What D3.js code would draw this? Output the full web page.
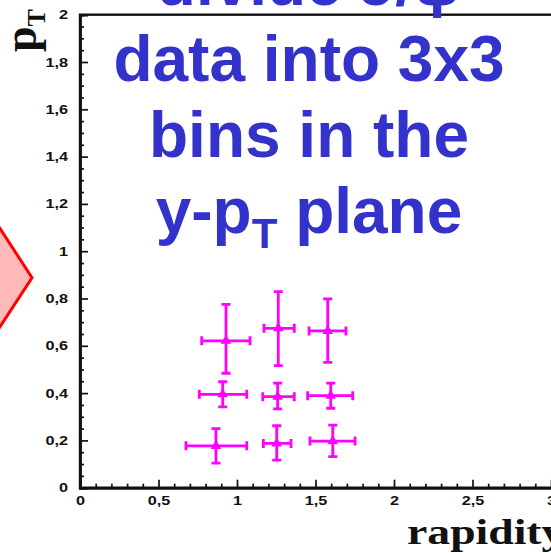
<!DOCTYPE html>
<html>
<head>
<meta charset="utf-8">
<script src="https://cdn.jsdelivr.net/npm/d3@7"></script>
<style>
  html, body { margin: 0; padding: 0; background: #ffffff; }
  svg { display: block; }
</style>
</head>
<body>
<svg id="chart" width="551" height="553"></svg>
<script>
// Measured J/psi bins: bin centres and bin edges in rapidity, pT centres and uncertainty bounds
const rapidity = [0.930, 1.263, 1.578, 0.909, 1.259, 1.597, 0.866, 1.253, 1.610];
const rapLow   = [0.775, 1.172, 1.459, 0.760, 1.164, 1.450, 0.675, 1.168, 1.465];
const rapHigh  = [1.083, 1.365, 1.694, 1.062, 1.365, 1.737, 1.062, 1.344, 1.752];
const pt       = [0.621, 0.674, 0.663, 0.395, 0.385, 0.389, 0.177, 0.187, 0.197];
const ptLow    = [0.484, 0.516, 0.530, 0.342, 0.333, 0.336, 0.104, 0.117, 0.131];
const ptHigh   = [0.775, 0.829, 0.798, 0.448, 0.442, 0.442, 0.250, 0.262, 0.265];

const xMajorTicks = [0, 0.5, 1, 1.5, 2, 2.5, 3];
const yMajorTicks = [0, 0.2, 0.4, 0.6, 0.8, 1, 1.2, 1.4, 1.6, 1.8, 2];
const xTickLabels = ["0", "0,5", "1", "1,5", "2", "2,5", "3"];
const yTickLabels = ["0", "0,2", "0,4", "0,6", "0,8", "1", "1,2", "1,4", "1,6", "1,8", "2"];

const titleLines = ["divide J/\u03C8", "data into 3x3", "bins in the"];

const svg = d3.select("#chart");

const x = d3.scaleLinear().domain([0, 3.2]).range([80, 80 + 3.2 * 157]);
const y = d3.scaleLinear().domain([0, 2]).range([487.7, 14.7]);

// Pink arrow-head shape on the left edge
svg.append("path")
  .attr("d", "M-10,213 L32,277.7 L-10,342 Z")
  .attr("fill", "#ffb9b9")
  .attr("stroke", "#ff0000")
  .attr("stroke-width", 3)
  .attr("stroke-linejoin", "miter");

// Frame
svg.append("rect")
  .attr("x", x(0)).attr("y", y(2))
  .attr("width", x(3.2) - x(0)).attr("height", y(0) - y(2))
  .attr("fill", "none").attr("stroke", "#111").attr("stroke-width", 2.4);

// Minor ticks
const xMinor = d3.range(0, 3.2, 0.1).filter(v => Math.abs(v * 2 - Math.round(v * 2)) > 1e-6);
const yMinor = d3.range(0, 2.0001, 0.05).filter(v => Math.abs(v * 5 - Math.round(v * 5)) > 1e-6);

const labelFont = "'Liberation Sans', Arial, sans-serif";
const stretch = 1.3;

const xAxisMinor = svg.append("g").attr("transform", `translate(0,${y(0)})`)
  .call(d3.axisBottom(x).tickValues(xMinor).tickSize(-4).tickFormat(""));
const xAxisMajor = svg.append("g").attr("transform", `translate(0,${y(0)})`)
  .call(d3.axisBottom(x).tickValues(xMajorTicks).tickSize(-8)
    .tickFormat((d, i) => xTickLabels[i]));
const yAxisMinor = svg.append("g").attr("transform", `translate(${x(0)},0)`)
  .call(d3.axisLeft(y).tickValues(yMinor).tickSize(-4).tickFormat(""));
const yAxisMajor = svg.append("g").attr("transform", `translate(${x(0)},0)`)
  .call(d3.axisLeft(y).tickValues(yMajorTicks).tickSize(-8)
    .tickFormat((d, i) => yTickLabels[i]));

[xAxisMinor, xAxisMajor, yAxisMinor, yAxisMajor].forEach(g => {
  g.select(".domain").attr("stroke", "#111").attr("stroke-width", 2.4);
  g.selectAll(".tick line").attr("stroke", "#111").attr("stroke-width", 1.7);
});

xAxisMajor.selectAll(".tick text")
  .attr("font-family", labelFont).attr("font-weight", "bold").attr("font-size", 12.5)
  .attr("fill", "#111")
  .attr("x", 0).attr("y", 17).attr("dy", null)
  .attr("transform", `scale(${stretch},1)`);
yAxisMajor.selectAll(".tick text")
  .attr("font-family", labelFont).attr("font-weight", "bold").attr("font-size", 12.5)
  .attr("fill", "#111")
  .attr("x", -12 / stretch)
  .attr("transform", `scale(${stretch},1)`);

// Axis titles
svg.append("text")
  .attr("transform", "translate(407,544) scale(1.27,1)")
  .attr("font-family", "'Liberation Serif', 'Times New Roman', serif")
  .attr("font-weight", "bold").attr("font-size", 36).attr("fill", "#111")
  .text("rapidity");

const yTitle = svg.append("text")
  .attr("transform", "translate(36,52) rotate(-90)")
  .attr("font-family", "'Liberation Serif', 'Times New Roman', serif")
  .attr("font-weight", "bold").attr("font-size", 46).attr("fill", "#111");
yTitle.append("tspan").text("p");
yTitle.append("tspan").attr("font-size", 26).attr("dy", 9).text("T");

// Data points with error bars
const pts = d3.range(rapidity.length).map(i => ({
  x: rapidity[i], xl: rapLow[i], xh: rapHigh[i],
  y: pt[i], yl: ptLow[i], yh: ptHigh[i]
}));
const magenta = "#ff00ff";
const cap = 4.5;
const g = svg.append("g").attr("stroke", magenta).attr("stroke-width", 2.8).attr("fill", "none");
pts.forEach(p => {
  const cx = x(p.x), cy = y(p.y);
  const path = d3.path();
  path.moveTo(x(p.xl), cy); path.lineTo(x(p.xh), cy);
  path.moveTo(x(p.xl), cy - cap); path.lineTo(x(p.xl), cy + cap);
  path.moveTo(x(p.xh), cy - cap); path.lineTo(x(p.xh), cy + cap);
  path.moveTo(cx, y(p.yl)); path.lineTo(cx, y(p.yh));
  path.moveTo(cx - cap, y(p.yl)); path.lineTo(cx + cap, y(p.yl));
  path.moveTo(cx - cap, y(p.yh)); path.lineTo(cx + cap, y(p.yh));
  g.append("path").attr("d", path.toString());
});
svg.append("g").selectAll("path").data(pts).join("path")
  .attr("d", d3.symbol(d3.symbolTriangle).size(48))
  .attr("transform", d => `translate(${x(d.x)},${y(d.y)})`)
  .attr("fill", magenta);

// Overlay annotation text
const titleFont = "'Liberation Sans', Arial, sans-serif";
const blue = "#3333cc";
titleLines.forEach((t, i) => {
  svg.append("text")
    .attr("x", 309).attr("y", 5 + i * 76)
    .attr("text-anchor", "middle")
    .attr("font-family", titleFont).attr("font-weight", "bold").attr("font-size", 64)
    .attr("fill", blue)
    .text(t);
});
const last = svg.append("text")
  .attr("x", 309).attr("y", 233)
  .attr("text-anchor", "middle")
  .attr("font-family", titleFont).attr("font-weight", "bold").attr("font-size", 64)
  .attr("fill", blue);
last.append("tspan").text("y-p");
last.append("tspan").attr("font-size", 42).attr("dy", 15).text("T");
last.append("tspan").attr("dy", -15).text(" plane");
</script>
</body>
</html>
